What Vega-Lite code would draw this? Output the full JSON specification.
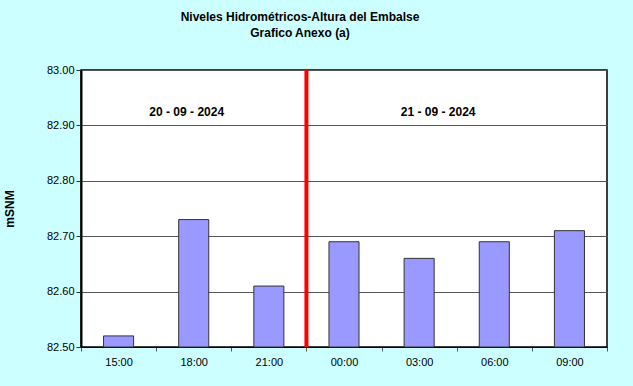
{
  "$schema": "https://vega.github.io/schema/vega-lite/v6.json",
  "autosize": {"type": "none"},
  "width": 526,
  "height": 277,
  "padding": {"left": 81, "top": 70, "right": 26, "bottom": 39},
  "background": "#CCFFFF",
  "config": {
    "font": "Liberation Sans",
    "view": {"fill": "white", "stroke": "black", "strokeWidth": 1.5}
  },
  "title": {
    "text": ["Niveles Hidrométricos-Altura del Embalse", "Grafico Anexo (a)"],
    "font": "Liberation Sans",
    "fontSize": 12,
    "fontWeight": "bold",
    "color": "black",
    "anchor": "middle",
    "frame": "group",
    "dx": -44,
    "offset": 24,
    "lineHeight": 16
  },
  "datasets": {
    "niveles": [
      {"hora": "15:00", "nivel": 82.52},
      {"hora": "18:00", "nivel": 82.73},
      {"hora": "21:00", "nivel": 82.61},
      {"hora": "00:00", "nivel": 82.69},
      {"hora": "03:00", "nivel": 82.66},
      {"hora": "06:00", "nivel": 82.69},
      {"hora": "09:00", "nivel": 82.71}
    ]
  },
  "layer": [
    {
      "data": {"name": "niveles"},
      "mark": {"type": "bar", "fill": "#9999FF", "stroke": "#333333", "strokeWidth": 1, "width": {"band": 0.4}},
      "encoding": {
        "x": {
          "field": "hora",
          "type": "nominal",
          "sort": null,
          "scale": {"domain": ["15:00", "18:00", "21:00", "00:00", "03:00", "06:00", "09:00"], "paddingInner": 0, "paddingOuter": 0},
          "axis": {
            "title": null,
            "labelAngle": 0,
            "labelFont": "Liberation Sans",
            "labelFontSize": 11,
            "labelColor": "black",
            "tickBand": "extent",
            "tickColor": "#555555",
            "tickSize": 4,
            "domainColor": "black",
            "labelPadding": 5
          }
        },
        "y": {
          "field": "nivel",
          "type": "quantitative",
          "scale": {"domain": [82.5, 83.0], "zero": false, "nice": false},
          "axis": {
            "title": "mSNM",
            "titleFont": "Liberation Sans",
            "titleFontSize": 12,
            "titleFontWeight": "bold",
            "titleColor": "black",
            "titlePadding": 30,
            "values": [82.5, 82.6, 82.7, 82.8, 82.9, 83.0],
            "format": ".2f",
            "labelFont": "Liberation Sans",
            "labelFontSize": 11,
            "labelColor": "black",
            "tickColor": "#333333",
            "tickSize": 5,
            "domainColor": "black",
            "domainWidth": 2,
            "grid": true,
            "gridColor": "#555555",
            "gridWidth": 1
          }
        },
        "y2": {"datum": 82.5}
      }
    },
    {
      "data": {"values": [{"hora": "00:00"}]},
      "mark": {"type": "rule", "color": "#FF0000", "strokeWidth": 4},
      "encoding": {
        "x": {"field": "hora", "type": "nominal", "bandPosition": 0}
      }
    },
    {
      "data": {"values": [{"hora": "18:00", "nivel": 82.925, "etiqueta": "20 - 09 - 2024"}]},
      "mark": {"type": "text", "font": "Liberation Sans", "fontSize": 12, "fontWeight": "bold", "color": "black", "dx": -7},
      "encoding": {
        "x": {"field": "hora", "type": "nominal"},
        "y": {"field": "nivel", "type": "quantitative"},
        "text": {"field": "etiqueta"}
      }
    },
    {
      "data": {"values": [{"hora": "03:00", "nivel": 82.925, "etiqueta": "21 - 09 - 2024"}]},
      "mark": {"type": "text", "font": "Liberation Sans", "fontSize": 12, "fontWeight": "bold", "color": "black", "dx": 19},
      "encoding": {
        "x": {"field": "hora", "type": "nominal"},
        "y": {"field": "nivel", "type": "quantitative"},
        "text": {"field": "etiqueta"}
      }
    }
  ]
}
